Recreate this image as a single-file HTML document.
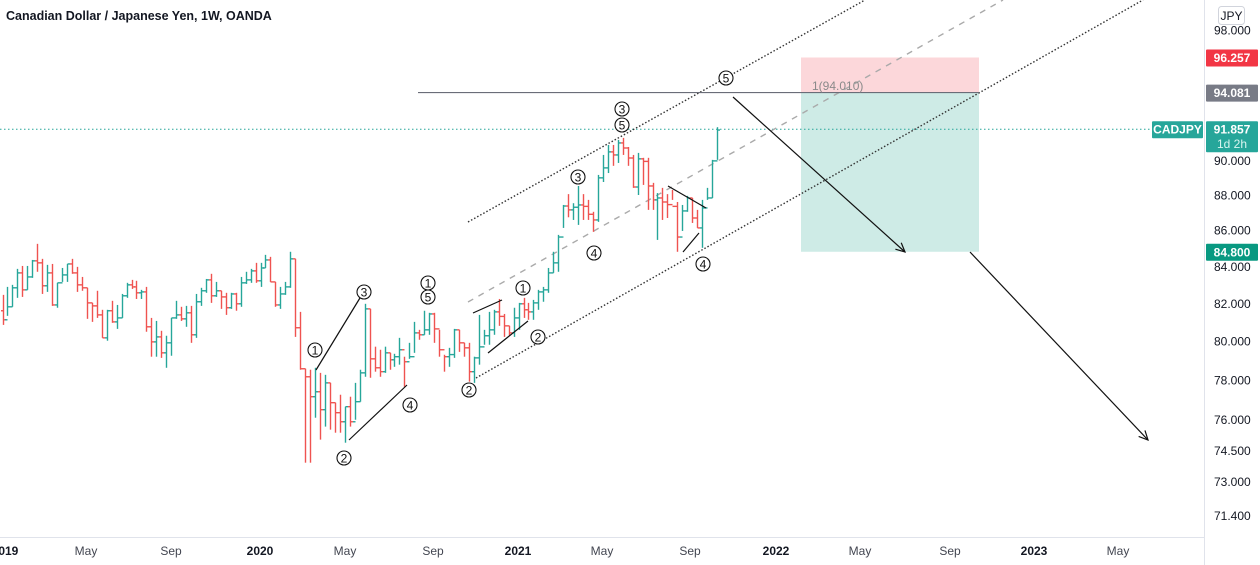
<!DOCTYPE html>
<html><head><meta charset="utf-8"><style>
html,body{margin:0;padding:0;background:#fff;}
svg{display:block;font-family:"Liberation Sans",sans-serif;}
</style></head><body>
<svg id="chart" width="1260" height="565" viewBox="0 0 1260 565"></svg>
<script>
const closes=[81.12,81.81,82.83,83.64,82.72,83.42,84.30,84.19,82.94,83.64,81.91,83.10,83.53,84.13,83.64,82.99,82.83,82.02,81.86,81.38,80.17,81.60,81.01,81.22,82.40,82.99,82.88,82.56,82.61,80.75,79.96,80.22,79.39,79.91,81.22,81.38,81.17,81.49,80.33,82.08,82.67,83.26,82.40,82.67,82.34,81.76,82.50,81.97,83.10,83.26,83.75,83.21,83.91,84.35,83.15,81.91,82.50,82.88,84.41,80.70,78.57,78.16,77.15,77.40,76.50,77.85,76.85,76.35,75.90,76.65,75.90,76.90,78.36,81.70,79.08,78.62,78.42,79.39,79.03,79.19,79.55,78.93,79.19,80.43,80.33,80.59,81.43,80.64,79.55,79.19,79.30,80.59,79.91,79.65,78.42,79.13,79.70,80.28,80.59,81.54,81.30,80.80,80.43,81.22,81.97,81.65,81.54,82.02,82.61,82.72,83.64,84.19,85.62,87.37,87.15,87.30,87.43,87.35,86.90,86.58,88.99,89.57,90.51,90.33,91.04,90.74,90.15,88.46,90.10,89.95,88.52,87.72,87.83,87.60,87.45,87.35,85.62,87.09,87.83,86.69,86.13,87.26,87.83,89.98,91.81];
const highs=[82.45,82.88,82.99,83.86,84.02,84.02,84.35,85.24,84.41,84.08,84.13,83.10,83.91,84.13,84.41,83.97,83.42,82.83,82.02,82.67,81.65,81.65,82.13,81.91,82.50,83.10,83.26,83.21,82.72,82.88,81.22,81.06,80.54,80.28,81.22,82.13,81.81,81.86,81.86,82.50,82.83,83.31,83.59,83.15,82.67,82.56,82.56,82.56,83.42,83.70,83.86,84.19,84.19,84.63,84.52,83.15,82.88,83.15,84.80,84.41,81.54,78.57,78.52,78.62,78.36,78.26,77.85,76.85,77.25,76.65,77.15,77.85,78.52,81.97,81.70,79.71,79.55,79.71,79.39,79.34,80.17,79.19,79.91,81.01,80.59,81.60,81.49,81.49,80.59,79.29,79.65,80.64,80.59,79.91,79.91,79.19,81.38,80.59,81.54,81.65,82.23,81.43,80.80,81.76,82.02,82.29,82.02,82.18,82.72,82.88,83.91,84.80,85.74,87.43,88.05,87.53,88.52,88.05,87.72,87.04,89.16,90.33,90.92,90.92,91.22,91.34,90.80,90.33,90.45,90.16,90.16,88.70,88.11,88.41,88.05,88.29,87.60,87.43,87.95,87.83,87.15,87.72,88.41,90.04,91.98];
const lows=[80.85,81.33,81.81,82.29,82.34,82.72,83.37,83.70,82.50,82.61,81.86,81.76,83.15,83.15,83.59,82.61,82.67,81.17,81.01,81.22,80.17,80.02,80.96,80.64,81.22,82.29,82.77,82.23,82.23,80.49,79.19,79.19,79.13,78.62,79.24,81.17,81.06,80.75,79.91,80.17,81.86,82.56,82.02,82.34,81.70,81.38,81.70,81.60,81.81,83.04,83.10,83.10,82.88,83.91,83.15,81.81,81.70,82.45,82.83,80.22,78.52,73.90,73.90,76.10,75.02,75.66,75.51,75.36,75.36,74.87,75.66,76.00,76.90,78.16,78.11,78.42,78.16,78.36,78.52,78.67,78.78,77.65,79.08,79.39,80.07,80.33,80.33,79.91,79.19,78.42,78.67,79.13,79.44,79.19,77.91,77.85,78.78,79.81,79.81,80.33,80.80,80.22,80.28,80.22,80.59,81.22,81.12,81.12,81.65,82.08,82.56,83.64,83.70,86.13,86.73,86.58,86.30,86.58,86.58,85.91,86.47,88.75,89.27,89.69,89.86,90.33,89.69,88.41,88.00,88.58,87.15,87.15,85.46,86.58,86.69,87.72,84.80,85.96,87.04,86.41,86.13,85.02,87.72,87.83,90.04];
const firstOpen=81.6;
const priceTicks=[98,90,88,86,84,82,80,78,76,74.5,73,71.4];
const priceTickLabels=["98.000","90.000","88.000","86.000","84.000","82.000","80.000","78.000","76.000","74.500","73.000","71.400"];
const timeLabels=["2019","May","Sep","2020","May","Sep","2021","May","Sep","2022","May","Sep","2023","May"];
const timeLabelX=[5,86,171,260,345,433,518,602,690,776,860,950,1034,1118];
const timeBold=[1,0,0,1,0,0,1,0,0,1,0,0,1,0];
const lastPrice=91.857, stopPrice=96.257, entryPrice=94.081, targetPrice=84.8;

const NS="http://www.w3.org/2000/svg";
const svg=document.getElementById('chart');
function yS(p){return 30+(Math.log(98)-Math.log(p))*1533;}
function xS(i){return 2.5+i*4.962;}
function mk(tag,attrs,parent){const e=document.createElementNS(NS,tag);for(const k in attrs)e.setAttribute(k,attrs[k]);(parent||svg).appendChild(e);return e;}

const rb=mk('rect',{x:801,y:yS(stopPrice),width:178,height:yS(entryPrice)-yS(stopPrice),fill:'rgba(242,54,69,0.2)'});


const tb=mk('rect',{x:801,y:yS(entryPrice),width:178,height:yS(targetPrice)-yS(entryPrice),fill:'rgba(8,153,129,0.2)'});



const lp=mk('line',{x1:0,x2:1204,y1:yS(lastPrice),y2:yS(lastPrice),stroke:'#26a69a','stroke-width':1,'stroke-dasharray':'1.5,2.5'});



const ch=[[468,222,865,0,'#333','1.5,2','channel-upper'],[468,302,1003,0,'#aaa','6,6','channel-mid'],[476,378,1143,0,'#333','1.5,2','channel-lower']];
ch.forEach(c=>{const l=mk('line',{x1:c[0],y1:c[1],x2:c[2],y2:c[3],stroke:c[4],'stroke-width':1.4,'stroke-dasharray':c[5]});

});

const hl=mk('line',{x1:418,x2:979,y1:yS(entryPrice),y2:yS(entryPrice),stroke:'#6a6d78','stroke-width':1.2});


const ht=mk('text',{x:812,y:90,'font-size':12,fill:'#8a8a8a'});ht.textContent='1(94.010)';



let prev=firstOpen;
for(let i=0;i<closes.length;i++){
  const c=closes[i],o=prev,x=Math.round(xS(i))+0.5;
  const col=c>=o?'#26a69a':'#ef5350';
  const g=mk('g',{stroke:col,'stroke-width':1.4});
  
  
  mk('line',{x1:x,x2:x,y1:yS(highs[i]),y2:yS(lows[i])},g);
  mk('line',{x1:x-2.5,x2:x,y1:yS(o),y2:yS(o)},g);
  mk('line',{x1:x,x2:x+2.5,y1:yS(c),y2:yS(c)},g);
  prev=c;
}

[[316,370,363,293],[349,440,407,385],[473,313,502,300],[488,353,528,321],[668,186,706,208],[683,252,699,233]].forEach(s=>{
  const l=mk('line',{x1:s[0],y1:s[1],x2:s[2],y2:s[3],stroke:'#111','stroke-width':1.2});
  
  
});
[[733,97,905,252],[970,252,1148,440]].forEach(a=>{
  const g=mk('g',{stroke:'#111','stroke-width':1.2,fill:'none'});
  
  
  mk('line',{x1:a[0],y1:a[1],x2:a[2],y2:a[3]},g);
  const ang=Math.atan2(a[3]-a[1],a[2]-a[0]);
  const p=(s)=>[a[2]-10*Math.cos(ang+s),a[3]-10*Math.sin(ang+s)];
  const p1=p(0.45),p2=p(-0.45);
  mk('polyline',{points:`${p1[0]},${p1[1]} ${a[2]},${a[3]} ${p2[0]},${p2[1]}`},g);
});
const waves=[[315,350,'1'],[364,292,'3'],[344,458,'2'],[410,405,'4'],[428,283,'1'],[428,297,'5'],[469,390,'2'],[523,288,'1'],[538,337,'2'],[578,177,'3'],[594,253,'4'],[622,109,'3'],[622,125,'5'],[703,264,'4'],[726,78,'5']];
waves.forEach(w=>{
  const g=mk('g',{});
  
  
  mk('circle',{cx:w[0],cy:w[1],r:7,fill:'#fff',stroke:'#111','stroke-width':1.1},g);
  const t=mk('text',{x:w[0],y:w[1]+4.3,'font-size':12,'text-anchor':'middle',fill:'#111'},g);t.textContent=w[2];
});

const ax=mk('line',{x1:1204.5,x2:1204.5,y1:0,y2:565,stroke:'#e0e3eb'});


const bx=mk('line',{x1:0,x2:1204,y1:537.5,y2:537.5,stroke:'#e0e3eb'});


priceTicks.forEach((p,i)=>{
  const t=mk('text',{x:1214,y:yS(p)+4.5,'font-size':12,fill:'#131722'});t.textContent=priceTickLabels[i];
  
  
});
timeLabels.forEach((s,i)=>{
  const t=mk('text',{x:timeLabelX[i],y:555,'font-size':12,'text-anchor':'middle',fill:timeBold[i]?'#131722':'#434651','font-weight':timeBold[i]?'bold':'normal'});t.textContent=s;
  
  
});
function tag(x,y,w,h,bg,txt,name,sub){
  const g=mk('g',{});
  
  
  mk('rect',{x:x,y:y,width:w,height:h,fill:bg,rx:1},g);
  const t=mk('text',{x:x+w/2,y:y+12.5,'font-size':12,'font-weight':'bold','text-anchor':'middle',fill:'#fff'},g);t.textContent=txt;
  if(sub){const s=mk('text',{x:x+w/2,y:y+27,'font-size':12,'text-anchor':'middle',fill:'#d8f5ef'},g);s.textContent=sub;}
}
tag(1206,yS(stopPrice)-8,52,17,'#f23645','96.257','stop-price-tag');
tag(1206,yS(entryPrice)-8,52,17,'#787b86','94.081','entry-price-tag');
tag(1206,yS(targetPrice)-8,52,17,'#089981','84.800','target-price-tag');
tag(1206,yS(lastPrice)-8,52,31,'#26a69a','91.857','last-price-tag','1d 2h');
tag(1152,yS(lastPrice)-8,51,17,'#26a69a','CADJPY','symbol-tag');
const jb=mk('g',{});


mk('rect',{x:1218.5,y:6.5,width:26,height:18,rx:3,fill:'#fff',stroke:'#d1d4dc'},jb);
const jt=mk('text',{x:1231.5,y:20,'font-size':12,'text-anchor':'middle',fill:'#131722'},jb);jt.textContent='JPY';
const title=mk('text',{x:6,y:20,'font-size':12.5,'font-weight':'bold',fill:'#131722'});title.textContent='Canadian Dollar / Japanese Yen, 1W, OANDA';


</script>
</body></html>
